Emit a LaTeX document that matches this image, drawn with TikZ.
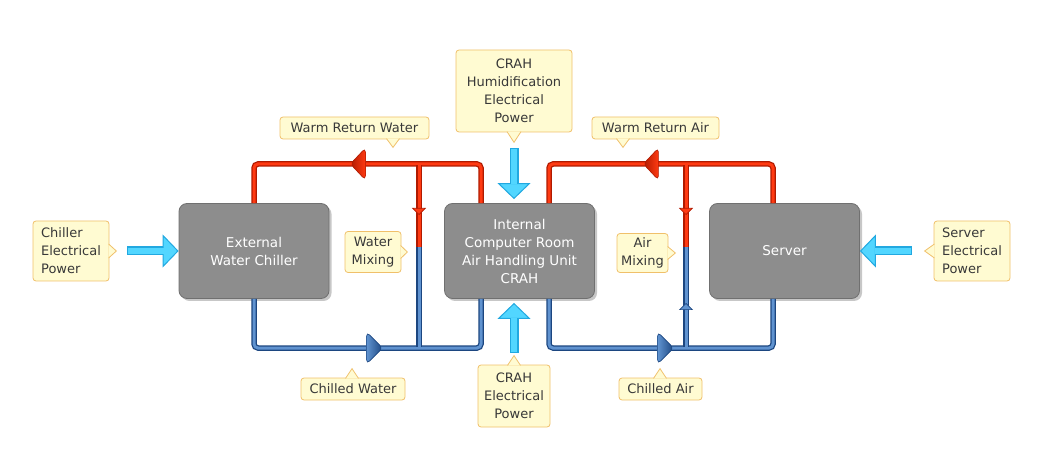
\documentclass[tikz,border=0pt]{standalone}
\usepackage{fontspec}
\setmainfont{DejaVu Sans}
\usetikzlibrary{shadows,arrows.meta,decorations.markings}

\definecolor{unitfill}{HTML}{8D8D8D}
\definecolor{unitedge}{HTML}{707070}
\definecolor{notefill}{HTML}{FFFBD2}
\definecolor{noteedge}{HTML}{F0C06A}
\definecolor{notetext}{HTML}{383838}
\definecolor{warmfill}{HTML}{FF3A12}
\definecolor{warmdark}{HTML}{B01A00}
\definecolor{coolfill}{HTML}{6093D0}
\definecolor{cooldark}{HTML}{1C4680}
\definecolor{powerfill}{HTML}{52D6FF}
\definecolor{poweredge}{HTML}{22A8E0}

\begin{document}
\begin{tikzpicture}[
  x=1pt, y=1pt,
  every node/.style={font=\fontsize{13}{18}\selectfont},
  unit/.style={rectangle, rounded corners=8pt, fill=unitfill, draw=unitedge, line width=0.8pt,
    text=white, align=center, minimum width=150pt, minimum height=95pt,
    font=\fontsize{13.5}{18}\selectfont,
    drop shadow={shadow xshift=2.5pt, shadow yshift=-2.5pt, opacity=0.22, fill=black}},
  note/.style={rectangle, rounded corners=3pt, fill=notefill, draw=noteedge,
    line width=0.8pt, text=notetext, inner sep=2pt},
  notetip/.style={fill=notefill, draw=noteedge, line width=0.8pt},
  warmsmall/.tip={Triangle[width=14pt, length=7pt, fill=warmfill, color=warmdark, line width=0.6pt]},
  coolsmall/.tip={Triangle[width=14pt, length=7pt, fill=coolfill, color=cooldark, line width=0.6pt]},
  warmpipe/.style={draw=warmfill, line width=3pt, rounded corners=4pt,
    preaction={draw=warmdark, line width=5.5pt}},
  coolpipe/.style={draw=coolfill, line width=3pt, rounded corners=4pt,
    preaction={draw=cooldark, line width=5.5pt}},
  tick/.style 2 args={postaction={decorate, decoration={markings, mark=at position #2 with {\arrow{#1}}}}},
  warmflow/.style={postaction={decorate, decoration={markings, mark=at position #1 with
    {\shadedraw[left color=warmdark, right color=warmfill, draw=warmdark, line width=0.6pt]
      (0,0) -- (-15,16) -- (-15,-16) -- cycle;}}}},
  coolflow/.style={postaction={decorate, decoration={markings, mark=at position #1 with
    {\shadedraw[left color=coolfill, right color=cooldark, draw=cooldark, line width=0.6pt]
      (0,0) -- (-16,16) -- (-16,-16) -- cycle;}}}},
  power/.style={draw=poweredge, line width=9pt,
    -{Triangle[width=33pt, length=16pt, fill=powerfill, color=poweredge, line width=1pt]},
    postaction={draw=powerfill, line width=6.6pt, -, shorten >=15pt, shorten <=1pt}}
]
\useasboundingbox (0,0) rectangle (1038,466);

\node[unit] (chiller) at (254,215) {External\\Water Chiller};
\node[unit] (crah) at (519.5,215) {Internal\\Computer Room\\Air Handling Unit\\CRAH};
\node[unit] (server) at (784.5,215) {Server};

\coordinate (wtop) at (419,302);
\coordinate (wmix) at (419,219);
\coordinate (wbot) at (419,118);
\coordinate (atop) at (686,302);
\coordinate (amix) at (686,219);
\coordinate (abot) at (686,118);

\draw[warmpipe, warmflow=168pt] ([xshift=-38.5pt]crah.north) |- (wtop) -| (chiller.north);
\draw[coolpipe, coolflow=176pt] (chiller.south) |- (wbot) -| ([xshift=-38.5pt]crah.south);
\draw[warmpipe, warmflow=167pt] ([xshift=-11.5pt]server.north) |- (atop) -| ([xshift=29.5pt]crah.north);
\draw[coolpipe, coolflow=172pt] ([xshift=29.5pt]crah.south) |- (abot) -| ([xshift=-11.5pt]server.south);

\draw[warmpipe, tick={warmsmall}{49.5pt}] ([yshift=-1.5pt]wtop) -- (wmix);
\draw[coolpipe] ([yshift=1.5pt]wbot) -- (wmix);
\draw[warmpipe, tick={warmsmall}{49.5pt}] ([yshift=-1.5pt]atop) -- (amix);
\draw[coolpipe, tick={coolsmall}{43.5pt}] ([yshift=1.5pt]abot) -- (amix);

\node[note, minimum width=76pt, minimum height=60pt, align=left] (chillerpow) at (71,215) {Chiller\\Electrical\\Power};
\node[note, minimum width=149pt, minimum height=22pt] (warmwater) at (354.5,338) {Warm Return Water};
\node[note, minimum width=56pt, minimum height=41pt, align=center] (watermix) at (373,214) {Water\\Mixing};
\node[note, minimum width=104pt, minimum height=22pt] (chilledwater) at (353,77) {Chilled Water};
\node[note, minimum width=116pt, minimum height=82pt, align=center] (humid) at (514,375) {CRAH\\Humidification\\Electrical\\Power};
\node[note, minimum width=127pt, minimum height=22pt] (warmair) at (655.5,338) {Warm Return Air};
\node[note, minimum width=51pt, minimum height=39pt, align=center] (airmix) at (642.5,213) {Air\\Mixing};
\node[note, minimum width=83pt, minimum height=22pt] (chilledair) at (660.5,77) {Chilled Air};
\node[note, minimum width=72pt, minimum height=62pt, align=center] (crahpow) at (514,70) {CRAH\\Electrical\\Power};
\node[note, minimum width=76pt, minimum height=60pt, align=left] (serverpow) at (972,215) {Server\\Electrical\\Power};

\draw[notetip] ([xshift=-0.8pt,yshift=7pt]chillerpow.east) -- ++(7.8,-7) -- ++(-7.8,-7);
\draw[notetip] ([xshift=32pt,yshift=0.8pt]warmwater.south) -- ++(6.5,-8.8) -- ++(6.5,8.8);
\draw[notetip] ([xshift=-0.8pt,yshift=6.5pt]watermix.east) -- ++(6.8,-6.5) -- ++(-6.8,-6.5);
\draw[notetip] ([xshift=-7.5pt,yshift=-0.8pt]chilledwater.north) -- ++(6.5,9.8) -- ++(6.5,-9.8);
\draw[notetip] ([xshift=-7pt,yshift=0.8pt]humid.south) -- ++(7,-10.8) -- ++(7,10.8);
\draw[notetip] ([xshift=-39pt,yshift=0.8pt]warmair.south) -- ++(6.5,-8.8) -- ++(6.5,8.8);
\draw[notetip] ([xshift=-0.8pt,yshift=6.5pt]airmix.east) -- ++(7.8,-6.5) -- ++(-7.8,-6.5);
\draw[notetip] ([xshift=-7pt,yshift=-0.8pt]chilledair.north) -- ++(6.5,9.8) -- ++(6.5,-9.8);
\draw[notetip] ([xshift=-6.5pt,yshift=-0.8pt]crahpow.north) -- ++(6.5,9.8) -- ++(6.5,-9.8);
\draw[notetip] ([xshift=0.8pt,yshift=7pt]serverpow.west) -- ++(-9.8,-7) -- ++(9.8,-7);

\draw[power] ([xshift=18pt]chillerpow.east) -- (chiller.west);
\draw[power] ([xshift=-22pt]serverpow.west) -- (server.east);
\draw[power] ([yshift=-16pt]humid.south) -- ([yshift=4pt]humid.south |- crah.north);
\draw[power] ([yshift=12pt]crahpow.north) -- ([yshift=-4pt]crahpow.north |- crah.south);
\end{tikzpicture}
\end{document}
